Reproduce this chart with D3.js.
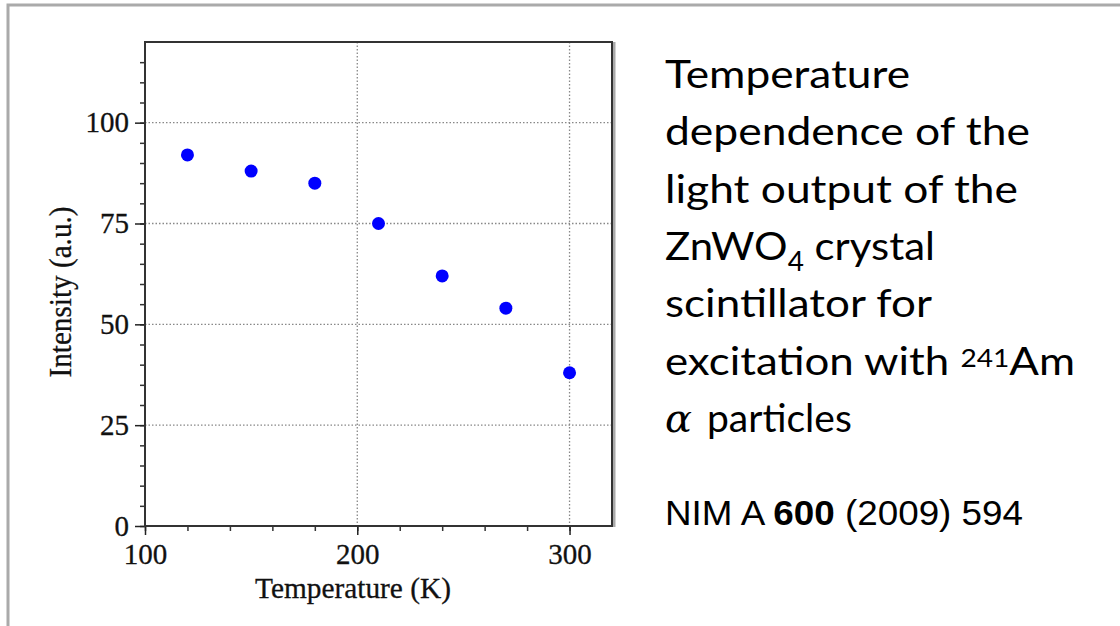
<!DOCTYPE html>
<html>
<head>
<meta charset="utf-8">
<script src="https://cdn.jsdelivr.net/npm/d3@7"></script>
<style>
  body { margin: 0; background: #fff; }
  svg { display: block; }
</style>
</head>
<body>
<div id="my_dataviz"></div>
<script>
// data
var temperature = [120, 150, 180, 210, 240, 270, 300];
var intensity = [92, 88, 85, 75, 62, 54, 38];
var xTicks = [100, 200, 300];
var yTicks = [0, 25, 50, 75, 100];
var xGrid = [200, 300];
var yGrid = [25, 50, 75, 100];

// set the dimensions of the graph
var W = 1120, H = 626;
var plot = {left: 145, top: 42, right: 612, bottom: 526};

var svg = d3.select("#my_dataviz")
  .append("svg")
    .attr("width", W)
    .attr("height", H);

// slide border (top and left only visible)
svg.append("path")
  .attr("d", "M8,626 L8,5 L1120,5")
  .attr("fill", "none")
  .attr("stroke", "#aaa")
  .attr("stroke-width", 3);

// scales
var x = d3.scaleLinear().domain([100, 320]).range([plot.left, plot.right]);
var y = d3.scaleLinear().domain([0, 120]).range([plot.bottom, plot.top]);

// dotted grid
var grid = svg.append("g")
  .attr("stroke", "#888")
  .attr("stroke-width", 1.3)
  .attr("stroke-dasharray", "1.5,2");
grid.selectAll(".gx").data(xGrid).enter().append("line")
  .attr("x1", function(d) { return x(d); })
  .attr("x2", function(d) { return x(d); })
  .attr("y1", plot.top)
  .attr("y2", plot.bottom);
grid.selectAll(".gy").data(yGrid).enter().append("line")
  .attr("y1", function(d) { return y(d); })
  .attr("y2", function(d) { return y(d); })
  .attr("x1", plot.left)
  .attr("x2", plot.right);

// minor ticks
var yMinor = d3.range(0, 120, 5);
var xMinor = d3.range(100, 320, 20);
svg.append("g")
  .attr("transform", "translate(" + plot.left + ",0)")
  .call(d3.axisLeft(y).tickValues(yMinor).tickSize(5).tickFormat(""))
  .call(function(g) { g.select(".domain").remove(); g.selectAll("line").attr("stroke", "#333").attr("stroke-width", 1.5); });
svg.append("g")
  .attr("transform", "translate(0," + plot.bottom + ")")
  .call(d3.axisBottom(x).tickValues(xMinor).tickSize(5).tickFormat(""))
  .call(function(g) { g.select(".domain").remove(); g.selectAll("line").attr("stroke", "#333").attr("stroke-width", 1.5); });

// major ticks with labels
var yAxis = svg.append("g")
  .attr("transform", "translate(" + plot.left + ",0)")
  .call(d3.axisLeft(y).tickValues(yTicks).tickSize(10).tickPadding(6));
var xAxis = svg.append("g")
  .attr("transform", "translate(0," + plot.bottom + ")")
  .call(d3.axisBottom(x).tickValues(xTicks).tickSize(9).tickPadding(8));
[xAxis, yAxis].forEach(function(g) {
  g.select(".domain").remove();
  g.selectAll("line").attr("stroke", "#222").attr("stroke-width", 1.5);
  g.selectAll("text")
    .attr("fill", "#111")
    .attr("stroke", "#111")
    .attr("stroke-width", 0.3)
    .style("font-family", "'Liberation Serif', 'Times New Roman', serif")
    .style("font-size", "29px");
});

// frame
svg.append("line")
  .attr("x1", plot.right + 2).attr("x2", plot.right + 2)
  .attr("y1", plot.top).attr("y2", plot.bottom + 1)
  .attr("stroke", "#aaa").attr("stroke-width", 3);
svg.append("rect")
  .attr("x", plot.left)
  .attr("y", plot.top)
  .attr("width", plot.right - plot.left)
  .attr("height", plot.bottom - plot.top)
  .attr("fill", "none")
  .attr("stroke", "#333")
  .attr("stroke-width", 2);

// axis titles
svg.append("text")
  .attr("x", 353)
  .attr("y", 598)
  .attr("text-anchor", "middle")
  .attr("textLength", 196)
  .attr("lengthAdjust", "spacingAndGlyphs")
  .attr("fill", "#111")
  .attr("stroke", "#111")
  .attr("stroke-width", 0.3)
  .style("font-family", "'Liberation Serif', 'Times New Roman', serif")
  .style("font-size", "30px")
  .text("Temperature (K)");
svg.append("text")
  .attr("transform", "translate(71,292) rotate(-90)")
  .attr("text-anchor", "middle")
  .attr("textLength", 171)
  .attr("lengthAdjust", "spacingAndGlyphs")
  .attr("fill", "#111")
  .attr("stroke", "#111")
  .attr("stroke-width", 0.3)
  .style("font-family", "'Liberation Serif', 'Times New Roman', serif")
  .style("font-size", "31px")
  .text("Intensity (a.u.)");

// the points
svg.append("g")
  .selectAll("circle")
  .data(temperature)
  .enter()
  .append("circle")
    .attr("cx", function(d) { return x(d); })
    .attr("cy", function(d, i) { return y(intensity[i]); })
    .attr("r", 6.5)
    .attr("fill", "#0000ff");

// caption on the right
var cap = svg.append("g")
  .style("font-family", "Lato, 'Open Sans', sans-serif")
  .style("font-size", "39px")
  .attr("fill", "#000");

function capLine(yy, len) {
  return cap.append("text")
    .attr("x", 665)
    .attr("y", yy)
    .attr("textLength", len)
    .attr("lengthAdjust", "spacingAndGlyphs");
}
capLine(88, 245).text("Temperature");
capLine(145, 365).text("dependence of the");
capLine(203, 353).text("light output of the");
var l4 = capLine(260, 270);
l4.append("tspan").text("ZnWO");
l4.append("tspan").attr("dy", 11).style("font-size", "26px").text("4");
l4.append("tspan").attr("dy", -11).text(" crystal");
capLine(317, 267).text("scintillator for");
var l6 = capLine(375, 410);
l6.append("tspan").text("excitation with ");
l6.append("tspan").attr("dy", -8).style("font-size", "25px").text("241");
l6.append("tspan").attr("dy", 8).text("Am");
var l7 = cap.append("text").attr("x", 665).attr("y", 432);
l7.append("tspan")
  .style("font-family", "'DejaVu Serif', 'Liberation Serif', serif")
  .style("font-style", "italic")
  .style("font-size", "40px")
  .text("\u03b1");
l7.append("tspan").attr("x", 707).text("particles");

var nim = svg.append("text")
  .attr("x", 665)
  .attr("y", 525)
  .attr("textLength", 358)
  .attr("lengthAdjust", "spacingAndGlyphs")
  .attr("fill", "#000")
  .style("font-family", "'Liberation Sans', Arial, sans-serif")
  .style("font-size", "35px");
nim.append("tspan").text("NIM A ");
nim.append("tspan").style("font-weight", "bold").text("600");
nim.append("tspan").text(" (2009) 594");
</script>
</body>
</html>
